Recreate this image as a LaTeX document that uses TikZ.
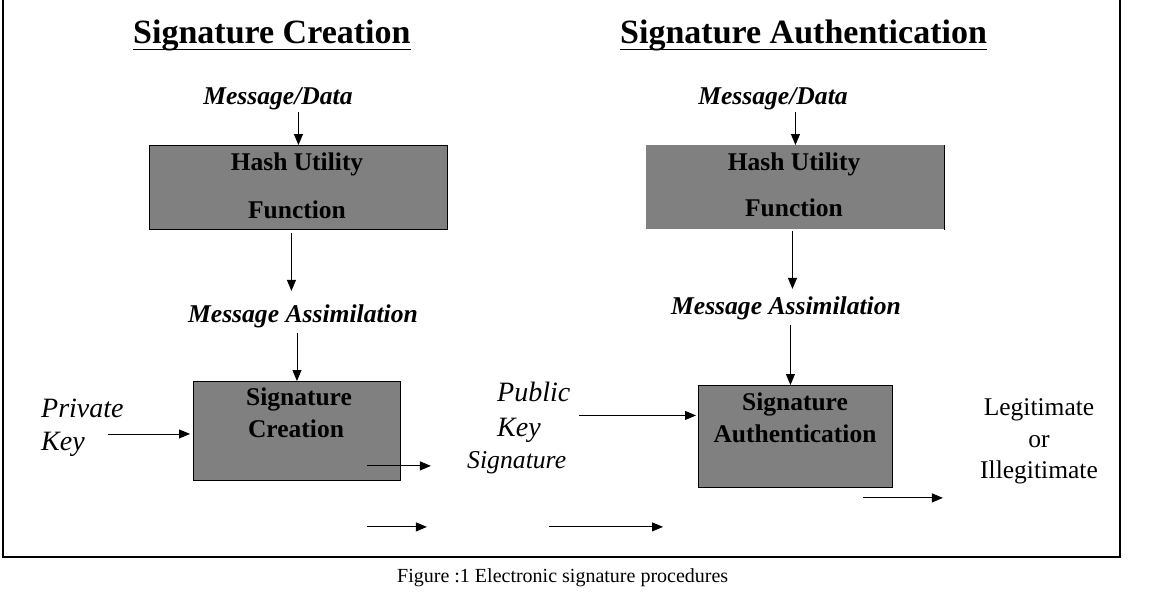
\documentclass[tikz,border=0pt]{standalone}
\usepackage{fontspec}
\setmainfont{Liberation Serif}
\usetikzlibrary{arrows.meta}
\definecolor{boxgray}{HTML}{808080}
\begin{document}
\begin{tikzpicture}[x=1pt,y=-1pt,
  every node/.style={inner sep=0pt},
  gbox/.style={fill=boxgray,draw=black,line width=0.9pt,anchor=north west},
  ttl/.style={font=\fontsize{34}{40}\selectfont\bfseries,anchor=base west},
  bi/.style={font=\fontsize{25.6}{30}\selectfont\bfseries\itshape,anchor=base},
  bt/.style={font=\fontsize{25.5}{30}\selectfont\bfseries,anchor=base},
  it/.style={font=\fontsize{28}{32}\selectfont\itshape,anchor=base west},
  rm/.style={font=\fontsize{25.5}{30}\selectfont,anchor=base},
  arr/.style={-{Triangle[length=11pt,width=9pt]},line width=0.9pt}]
\useasboundingbox (0,0) rectangle (1155,597);
% frame
\draw[line width=2pt] (3,0) -- (3,557) -- (1120,557) -- (1120,0);
% boxes
\node[gbox,minimum width=298pt,minimum height=84pt] (hashL) at (149,145) {};
\node[gbox,draw=none,minimum width=298pt,minimum height=84pt] (hashR) at (646,145) {};
\draw[line width=0.9pt] (hashR.north east) -- (hashR.south east);
\node[gbox,minimum width=207pt,minimum height=99pt] (sigC) at (193,381) {};
\node[gbox,minimum width=194pt,minimum height=102pt] (sigA) at (698,385) {};
% titles
\node[ttl] (t1) at (133,43) {Signature Creation};
\node[ttl] (t2) at (620,43) {Signature Authentication};
\draw[line width=1.8pt] ([yshift=-6.5pt]t1.base west) -- ([yshift=-6.5pt]t1.base east);
\draw[line width=1.8pt] ([yshift=-6.5pt]t2.base west) -- ([yshift=-6.5pt]t2.base east);
% left column
\node[bi] (mdL) at (278,104) {Message/Data};
\node[bt] (h1L) at (297,170) {Hash Utility};
\node[bt] (h2L) at (297,218) {Function};
\node[bi] (maL) at (303,322) {Message Assimilation};
\node[bt] (s1L) at (299,405) {Signature};
\node[bt] (s2L) at (296,437) {Creation};
\node[it] (pk1) at (41,417) {Private};
\node[it] (pk2) at (41,450) {Key};
% right column
\node[bi] (mdR) at (773,104) {Message/Data};
\node[bt] (h1R) at (794,170) {Hash Utility};
\node[bt] (h2R) at (794,216) {Function};
\node[bi] (maR) at (786,314) {Message Assimilation};
\node[bt] (s1R) at (795,410) {Signature};
\node[bt] (s2R) at (795,442) {Authentication};
\node[it] (pub1) at (497,401) {Public};
\node[it] (pub2) at (497,436) {Key};
\node[font=\fontsize{25.7}{30}\selectfont\itshape,anchor=base west] (sgn) at (467,468) {Signature};
\node[rm] (lg1) at (1039,415) {Legitimate};
\node[rm] (lg2) at (1039,447) {or};
\node[rm] (lg3) at (1039,478) {Illegitimate};
% caption
\node[font=\fontsize{20}{24}\selectfont,anchor=base west] (cap) at (397,582) {Figure :1 Electronic signature procedures};
% arrows left
\draw[arr] ([yshift=-2pt]mdL.south -| hashL.north) -- (hashL.north);
\draw[arr] ([shift={(-7,3)}]hashL.south) -- ++(0,58);
\draw[arr] ([yshift=-5pt]sigC.north |- maL.south) -- (sigC.north);
\draw[arr] ([shift={(-85,3)}]sigC.west) -- ++(82,0);
\draw[arr] ([shift={(-34,-15)}]sigC.south east) -- ++(64,0);
\draw[arr] ([shift={(-34,46)}]sigC.south east) -- ++(60,0);
% arrows right
\draw[arr] ([yshift=-2pt]mdR.south -| hashR.north) -- (hashR.north);
\draw[arr] ([shift={(-3,1)}]hashR.south) -- ++(0,58);
\draw[arr] ([shift={(-5,5)}]sigA.north |- maR.south) -- ([xshift=-5pt]sigA.north);
\draw[arr] ([shift={(-119,-21)}]sigA.west) -- ++(117,0);
\draw[arr] ([shift={(-149,39)}]sigA.south west) -- ++(114,0);
\draw[arr] ([shift={(-30,10)}]sigA.south east) -- ++(80,0);
\end{tikzpicture}
\end{document}
